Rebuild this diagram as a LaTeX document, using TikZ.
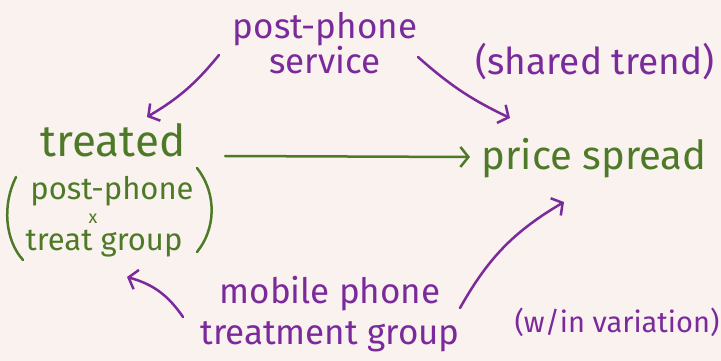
\documentclass[tikz,border=0pt]{standalone}
\usepackage{fontspec}
\setmainfont{Fira Sans}
\usetikzlibrary{arrows.meta,calc}
\definecolor{paper}{HTML}{F9F2EE}
\definecolor{ink}{HTML}{7B2A9C}
\definecolor{leaf}{HTML}{4E7A27}
\begin{document}
\begin{tikzpicture}[x=1pt,y=-1pt,
  lbl/.style={inner sep=0pt, outer sep=0pt, align=center},
  purp/.style={lbl, text=ink},
  grn/.style={lbl, text=leaf},
  sz/.style={font={\fontsize{#1}{#1}\selectfont}},
  conn/.style={line width=2.5pt, line cap=round, line join=round,
    -{Straight Barb[length=8pt,width=20pt,line width=2.5pt]}},
  pconn/.style={conn, draw=ink},
  gconn/.style={conn, draw=leaf},
  paren/.style={draw=leaf, line width=2.5pt, line cap=round}]
  % paper
  \fill[paper] (0,0) rectangle (721,361);
  \useasboundingbox (0,0) rectangle (721,361);

  % labels
  \node[purp, font={\fontsize{35}{32}\selectfont}] (pp) at (325,43) {post-phone\\service};
  \node[purp, sz=37] (trend) at (595,62) {(shared trend)};
  \node[grn, sz=44] (treated) at (113,140) {treated};
  \node[grn, sz=31] (gpp) at (112,191) {post-phone};
  \node[grn, sz=18] (gx) at (93,219) {x};
  \node[grn, sz=31] (gtg) at (104,244) {treat group};
  \node[grn, sz=40] (price) at (594,158) {price spread};
  \node[purp, font={\fontsize{35}{41}\selectfont}] (mob) at (330,314) {mobile phone\\treatment group};
  \node[purp, sz=29] (within) at (617,322) {(w/in variation)};

  % brackets round the interaction term
  \draw[paren] (16,177) .. controls (2,205) and (5,240) .. (23,260);
  \draw[paren] (197,168) .. controls (218,195) and (215,230) .. (197,252);

  % arrows
  \draw[pconn] ($(pp)+(-106,12)$) to[bend left=10] ($(treated)+(34,-23)$);
  \draw[pconn] ($(pp)+(93,14)$) to[bend right=8] ($(price)+(-84,-40)$);
  \draw[gconn] ($(treated)+(112,16)$) -- ($(price)+(-124,-1)$);
  \draw[pconn] ($(mob)+(-147,3)$) to[bend right=20] ($(gtg)+(23,33)$);
  \draw[pconn] ($(mob)+(130,-6)$) to[bend left=15] ($(price)+(-30,44)$);
\end{tikzpicture}
\end{document}
